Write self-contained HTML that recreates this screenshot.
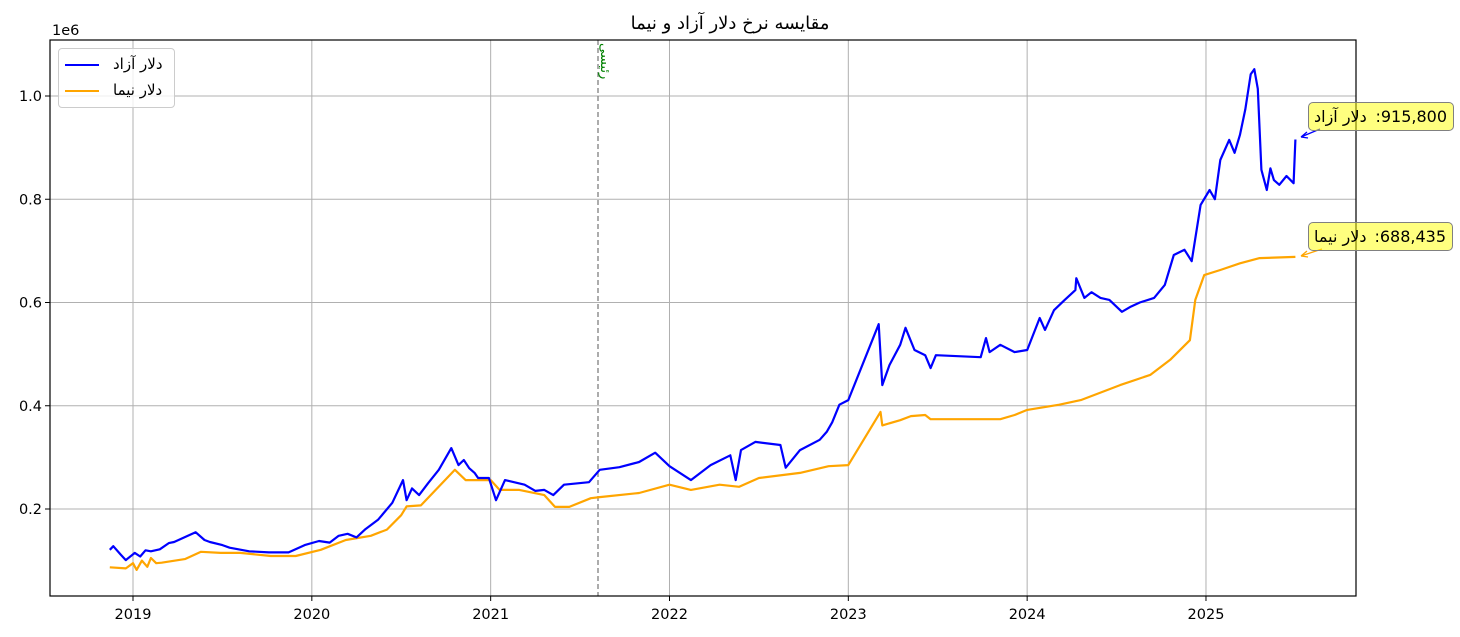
<!DOCTYPE html>
<html><head><meta charset="utf-8"><style>
body{margin:0;background:#fff;width:1460px;height:637px;overflow:hidden;position:relative;font-family:"DejaVu Sans","Liberation Sans",sans-serif}
.ann{position:absolute;background:rgba(255,255,0,0.5);border:1.2px solid #808080;border-radius:5px;font-size:16px;color:#000;height:29px;box-sizing:border-box}
.ann span{position:absolute;top:4px;white-space:nowrap}
</style></head><body>
<svg id="chart" width="1460" height="637" style="position:absolute;left:0;top:0" font-family="DejaVu Sans, Liberation Sans, sans-serif">
<g id="grid"></g><g id="series"></g><g id="axes"></g>
</svg>
<div class="ann" style="left:1308px;top:102px;width:146px"><span style="left:5px">دلار آزاد</span><span style="right:6px">:915,800</span></div>
<div class="ann" style="left:1308px;top:222px;width:145px"><span style="left:5px">دلار نیما</span><span style="right:6px">:688,435</span></div>
<div style="position:absolute;left:58px;top:48px;width:117px;height:60px;border:1px solid #ccc;border-radius:4px;background:rgba(255,255,255,0.8);box-sizing:border-box">
 <div style="position:absolute;left:6px;top:6px;width:104px;height:20px"><div style="position:absolute;left:0;top:9px;width:34px;height:2px;background:#0000ff"></div><div style="position:absolute;left:48px;top:0;font-size:15px">دلار آزاد</div></div>
 <div style="position:absolute;left:6px;top:32px;width:104px;height:20px"><div style="position:absolute;left:0;top:9px;width:34px;height:2px;background:#ffa500"></div><div style="position:absolute;left:48px;top:0;font-size:15px">دلار نیما</div></div>
</div>
<script>
const freeX=[2018.87,2018.89,2018.93,2018.96,2019.01,2019.04,2019.07,2019.10,2019.15,2019.20,
2019.23,2019.35,2019.40,2019.43,2019.50,2019.54,2019.65,2019.76,2019.87,2019.96,
2020.04,2020.10,2020.15,2020.20,2020.25,2020.30,2020.37,2020.45,2020.51,2020.53,
2020.56,2020.60,2020.65,2020.71,2020.78,2020.82,2020.85,2020.88,2020.91,2020.93,
2020.99,2021.03,2021.08,2021.19,2021.25,2021.30,2021.35,2021.41,2021.55,2021.61,
2021.72,2021.83,2021.92,2022.00,2022.12,2022.23,2022.34,2022.37,2022.40,2022.48,
2022.62,2022.65,2022.73,2022.84,2022.88,2022.91,2022.95,2023.00,2023.17,2023.19,
2023.23,2023.29,2023.32,2023.37,2023.43,2023.46,2023.49,2023.74,2023.77,2023.79,
2023.85,2023.93,2024.00,2024.07,2024.10,2024.15,2024.21,2024.27,2024.275,2024.32,
2024.36,2024.41,2024.46,2024.53,2024.58,2024.63,2024.71,2024.77,2024.82,2024.88,
2024.92,2024.97,2025.02,2025.05,2025.08,2025.13,2025.16,2025.19,2025.22,2025.25,
2025.27,2025.29,2025.31,2025.34,2025.36,2025.38,2025.41,2025.45,2025.49,2025.50];
const freeV=[121,128,112,101,115,108,120,118,122,134,
136,155,140,136,130,125,118,116,116,130,
138,135,148,152,145,161,179,212,256,217,
240,227,250,276,318,285,295,279,270,260,
260,217,256,247,235,237,227,247,252,276,
281,291,309,283,256,285,304,256,314,330,
324,280,314,334,350,368,402,411,558,440,
479,518,551,508,498,473,498,494,531,504,
518,504,508,570,547,585,605,624,647,609,
620,609,605,582,592,600,609,634,692,702,
680,789,818,800,876,915,890,925,974,1042,
1052,1014,857,818,860,837,828,845,831,915.8];
const nimaX=[2018.87,2018.96,2019.00,2019.02,2019.05,2019.08,2019.10,2019.13,2019.16,2019.29,
2019.38,2019.49,2019.60,2019.77,2019.91,2020.05,2020.19,2020.33,2020.42,2020.50,
2020.53,2020.61,2020.72,2020.80,2020.86,2021.00,2021.05,2021.16,2021.30,2021.36,
2021.44,2021.56,2021.61,2021.83,2022.00,2022.12,2022.28,2022.39,2022.50,2022.73,
2022.89,2023.00,2023.18,2023.19,2023.29,2023.35,2023.43,2023.46,2023.85,2023.93,
2024.00,2024.18,2024.30,2024.52,2024.69,2024.80,2024.91,2024.94,2024.99,2025.08,
2025.19,2025.30,2025.50];
const nimaV=[87,85,95,82,100,88,105,95,96,103,
117,115,115,109,109,121,140,148,160,188,
205,207,247,276,256,256,237,237,227,204,
204,221,223,231,247,237,247,243,260,270,
283,285,388,362,372,380,382,374,374,382,
392,402,411,440,460,489,527,605,653,663,
676,686,688.4];
const yTicks=[0.2,0.4,0.6,0.8,1.0];
const yLabels=["0.2","0.4","0.6","0.8","1.0"];
const xTicks=[2019,2020,2021,2022,2023,2024,2025];
const L=50,R=1356,T=40,B=596;
const X=t=>133+(t-2019)*178.83;
const Y=v=>509-(v-0.2)*516.25;
const NS="http://www.w3.org/2000/svg";
function mk(tag,attrs,parent,txt){const e=document.createElementNS(NS,tag);for(const k in attrs)e.setAttribute(k,attrs[k]);if(txt!==undefined)e.textContent=txt;document.getElementById(parent).appendChild(e);return e;}
xTicks.forEach((t,i)=>{
 const g=mk('line',{x1:X(t),x2:X(t),y1:T,y2:B,stroke:'#b0b0b0','stroke-width':1},'grid');
 
 
 const tk=mk('line',{x1:X(t),x2:X(t),y1:B,y2:B+5,stroke:'#000'},'axes');
 
 
 const lb=mk('text',{x:X(t),y:B+23,'text-anchor':'middle','font-size':14.5},'axes',String(t));
 
 
});
yTicks.forEach((v,i)=>{
 const g=mk('line',{x1:L,x2:R,y1:Y(v),y2:Y(v),stroke:'#b0b0b0','stroke-width':1},'grid');
 
 
 const tk=mk('line',{x1:L-5,x2:L,y1:Y(v),y2:Y(v),stroke:'#000'},'axes');
 
 
 const lb=mk('text',{x:L-8,y:Y(v)+5,'text-anchor':'end','font-size':14.5},'axes',yLabels[i]);
 
 
});
const vl=mk('line',{x1:598,x2:598,y1:T,y2:B,stroke:'#808080','stroke-width':1.3,'stroke-dasharray':'5,3'},'grid');


const vt=mk('text',{x:0,y:0,transform:'translate(601,43) rotate(90)','font-size':13,fill:'green'},'axes','رئیسی');


function path(xs,vs,color,name){
 const n=Math.min(xs.length,vs.length);
 let d='';
 for(let i=0;i<n;i++)d+=(i?'L':'M')+X(xs[i]).toFixed(1)+','+Y(vs[i]/1000).toFixed(1);
 const p=mk('path',{d:d,fill:'none',stroke:color,'stroke-width':2.2,'stroke-linejoin':'round'},'series');
 
 
}
path(nimaX,nimaV,'#ffa500','nima-dollar-line');
path(freeX,freeV,'#0000ff','free-dollar-line');
const fr=mk('rect',{x:L,y:T,width:R-L,height:B-T,fill:'none',stroke:'#000','stroke-width':1.2},'axes');


const ti=mk('text',{x:730,y:29,'text-anchor':'middle','font-size':18},'axes','مقایسه نرخ دلار آزاد و نیما');


const oe=mk('text',{x:52,y:35,'font-size':14.5},'axes','1e6');


const a1=mk('path',{d:'M1320,129 L1301,137 M1301,137 l6,-5 M1301,137 l7,1',stroke:'#0000ff','stroke-width':1.3,fill:'none'},'axes');


const a2=mk('path',{d:'M1322,249 L1301,256 M1301,256 l6,-5 M1301,256 l7,1',stroke:'#ffa500','stroke-width':1.3,fill:'none'},'axes');


</script>
</body></html>
